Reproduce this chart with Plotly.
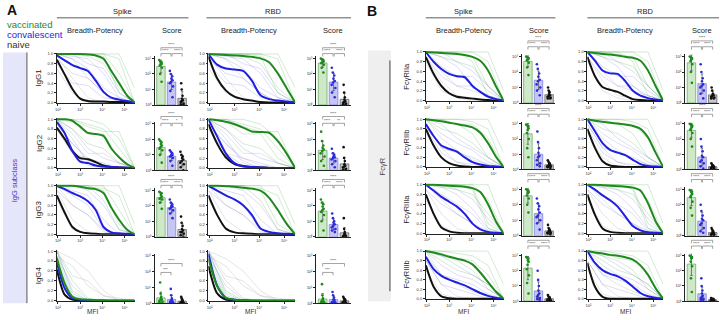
import numpy as np
import plotly.graph_objects as go

W, H = 720, 320
FONT = "Arial, 'Liberation Sans', sans-serif"

# ---------------- data ----------------
LOGMFI = [1.95, 2.3, 2.65, 3.0, 3.35, 3.7, 4.05, 4.4, 4.75, 5.1, 5.45]
THIN_X = [1.95, 2.65, 3.35, 4.05, 4.75, 5.45]
MFI_TICKS = [2, 3, 4, 5]
MFI_TICK_LABELS = ['10²', '10³', '10⁴', '10⁵']
FRAC_TICKS = [0, 0.2, 0.4, 0.6, 0.8, 1.0]
FRAC_TICK_LABELS = ['0.0', '0.2', '0.4', '0.6', '0.8', '1.0']
SCORE_TICKS = [0, 1, 2, 3]
SCORE_TICK_LABELS = ['10⁰', '10¹', '10²', '10³']
GROUPS = ['vaccinated', 'convalescent', 'naive']
A_ROWS = ['IgG1', 'IgG2', 'IgG3', 'IgG4']
B_ROWS = ['FcγRIIa', 'FcγRIIb', 'FcγRIIIa', 'FcγRIIIb']

# mean breadth-potency curves (fraction vs log10 MFI), one list per row
A_SPIKE_VAC = [[1, 1, 1, 1, 0.99, 0.97, 0.9, 0.65, 0.4, 0.15, 0],
               [1, 1, 0.97, 0.85, 0.72, 0.7, 0.66, 0.4, 0.22, 0.08, 0],
               [1, 1, 1, 0.98, 0.95, 0.93, 0.85, 0.55, 0.3, 0.1, 0],
               [0.86, 0.35, 0.08, 0.03, 0.02, 0.01, 0.01, 0, 0, 0, 0]]
A_SPIKE_CONV = [[0.97, 0.87, 0.77, 0.71, 0.65, 0.45, 0.22, 0.1, 0.06, 0.03, 0],
                [0.95, 0.72, 0.35, 0.13, 0.1, 0.05, 0.03, 0.02, 0.01, 0.01, 0],
                [1, 0.93, 0.85, 0.78, 0.68, 0.5, 0.15, 0.04, 0.02, 0.01, 0],
                [0.77, 0.25, 0.05, 0.02, 0.01, 0, 0, 0, 0, 0, 0]]
A_SPIKE_NAIVE = [[0.88, 0.58, 0.28, 0.08, 0.03, 0.02, 0.02, 0.01, 0.01, 0.01, 0],
                 [0.83, 0.6, 0.35, 0.2, 0.18, 0.12, 0.05, 0.02, 0.01, 0, 0],
                 [0.8, 0.45, 0.15, 0.05, 0.02, 0.01, 0, 0, 0, 0, 0],
                 [0.63, 0.12, 0.02, 0, 0, 0, 0, 0, 0, 0, 0]]
A_RBD_VAC = [[1, 0.99, 0.98, 0.97, 0.96, 0.94, 0.91, 0.83, 0.6, 0.3, 0],
             [1, 0.98, 0.95, 0.9, 0.83, 0.75, 0.74, 0.72, 0.55, 0.3, 0],
             [1, 1, 0.99, 0.98, 0.96, 0.94, 0.9, 0.75, 0.5, 0.22, 0],
             [0.85, 0.3, 0.06, 0.02, 0.01, 0, 0, 0, 0, 0, 0]]
A_RBD_CONV = [[1, 0.78, 0.7, 0.68, 0.65, 0.45, 0.15, 0.07, 0.04, 0.02, 0],
              [1, 0.65, 0.3, 0.1, 0.03, 0.02, 0.01, 0, 0, 0, 0],
              [1, 0.9, 0.8, 0.72, 0.6, 0.4, 0.12, 0.05, 0.02, 0.01, 0],
              [0.95, 0.3, 0.05, 0.02, 0.01, 0, 0, 0, 0, 0, 0]]
A_RBD_NAIVE = [[0.95, 0.5, 0.25, 0.12, 0.07, 0.04, 0.01, 0, 0, 0, 0],
               [0.9, 0.5, 0.22, 0.08, 0.04, 0.02, 0.01, 0, 0, 0, 0],
               [0.8, 0.4, 0.12, 0.04, 0.02, 0.01, 0, 0, 0, 0, 0],
               [0.7, 0.15, 0.02, 0, 0, 0, 0, 0, 0, 0, 0]]
B_SPIKE_VAC = [[1, 0.99, 0.98, 0.97, 0.96, 0.94, 0.9, 0.82, 0.62, 0.3, 0],
               [1, 0.98, 0.96, 0.93, 0.9, 0.87, 0.83, 0.72, 0.5, 0.22, 0],
               [1, 1, 0.99, 0.98, 0.97, 0.96, 0.93, 0.85, 0.6, 0.25, 0],
               [1, 0.97, 0.93, 0.88, 0.84, 0.8, 0.72, 0.55, 0.35, 0.15, 0]]
B_SPIKE_CONV = [[1, 0.8, 0.65, 0.55, 0.5, 0.48, 0.3, 0.18, 0.08, 0.03, 0],
                [0.9, 0.65, 0.45, 0.38, 0.32, 0.2, 0.1, 0.05, 0.02, 0.01, 0],
                [1, 0.88, 0.75, 0.65, 0.55, 0.4, 0.2, 0.08, 0.03, 0.01, 0],
                [0.88, 0.62, 0.48, 0.4, 0.34, 0.28, 0.2, 0.12, 0.06, 0.02, 0]]
B_SPIKE_NAIVE = [[0.9, 0.55, 0.3, 0.15, 0.08, 0.06, 0.04, 0.02, 0.01, 0, 0],
                 [0.8, 0.45, 0.2, 0.08, 0.03, 0.01, 0, 0, 0, 0, 0],
                 [0.8, 0.4, 0.12, 0.04, 0.01, 0, 0, 0, 0, 0, 0],
                 [0.7, 0.25, 0.05, 0.01, 0, 0, 0, 0, 0, 0, 0]]
B_RBD_VAC = [[1, 0.98, 0.96, 0.95, 0.93, 0.9, 0.88, 0.82, 0.62, 0.3, 0],
             [1, 0.97, 0.95, 0.93, 0.91, 0.89, 0.86, 0.8, 0.62, 0.3, 0],
             [1, 1, 0.99, 0.98, 0.97, 0.96, 0.94, 0.88, 0.62, 0.25, 0],
             [1, 0.97, 0.95, 0.92, 0.9, 0.87, 0.82, 0.7, 0.5, 0.22, 0]]
B_RBD_CONV = [[1, 0.82, 0.62, 0.56, 0.55, 0.4, 0.2, 0.1, 0.05, 0.02, 0],
              [1, 0.75, 0.5, 0.36, 0.3, 0.25, 0.15, 0.06, 0.02, 0.01, 0],
              [1, 0.9, 0.78, 0.68, 0.55, 0.35, 0.15, 0.06, 0.02, 0.01, 0],
              [1, 0.75, 0.6, 0.52, 0.47, 0.38, 0.25, 0.12, 0.05, 0.02, 0]]
B_RBD_NAIVE = [[0.9, 0.5, 0.28, 0.22, 0.18, 0.1, 0.03, 0.01, 0, 0, 0],
               [0.8, 0.4, 0.12, 0.03, 0.01, 0, 0, 0, 0, 0, 0],
               [0.8, 0.38, 0.1, 0.03, 0.01, 0, 0, 0, 0, 0, 0],
               [0.75, 0.25, 0.04, 0, 0, 0, 0, 0, 0, 0, 0]]

# individual (thin) curves per row, on THIN_X
THIN_A_VAC = [
    [[1, 1, 1, 1, 0.6, 0], [1, 1, 1, 0.95, 0.2, 0], [1, 1, 1, 1, 0.9, 0], [1, 1, 0.95, 0.8, 0.3, 0], [1, 1, 1, 1, 1, 0.3]],
    [[1, 1, 0.9, 0.8, 0.4, 0], [1, 0.95, 0.7, 0.7, 0.2, 0], [1, 1, 1, 0.9, 0.6, 0], [1, 0.8, 0.5, 0.4, 0.1, 0], [1, 1, 0.85, 0.75, 0.75, 0]],
    [[1, 1, 1, 1, 0.5, 0], [1, 1, 1, 0.9, 0.2, 0], [1, 1, 0.95, 0.95, 0.8, 0], [1, 1, 1, 0.7, 0.1, 0], [1, 1, 1, 1, 1, 0.2]],
    [[1, 0.2, 0, 0, 0, 0], [0.9, 0.1, 0, 0, 0, 0], [1, 0.4, 0.05, 0, 0, 0], [0.7, 0.05, 0, 0, 0, 0]]]
THIN_A_CONV = [
    [[1, 0.9, 0.7, 0.3, 0.1, 0], [0.9, 0.6, 0.5, 0.2, 0, 0], [1, 0.95, 0.9, 0.6, 0.1, 0], [0.8, 0.4, 0.35, 0.1, 0.05, 0], [1, 1, 0.8, 0.7, 0.2, 0]],
    [[1, 0.6, 0.1, 0, 0, 0], [0.9, 0.5, 0.2, 0.1, 0, 0], [1, 0.8, 0.4, 0.2, 0.1, 0], [0.8, 0.3, 0.05, 0, 0, 0]],
    [[1, 0.9, 0.8, 0.3, 0, 0], [1, 0.8, 0.6, 0.1, 0, 0], [1, 1, 0.9, 0.6, 0.1, 0], [0.9, 0.6, 0.4, 0.05, 0, 0]],
    [[1, 0.15, 0, 0, 0, 0], [0.8, 0.05, 0, 0, 0, 0], [0.9, 0.3, 0.02, 0, 0, 0]]]
THIN_A_NAIVE = [
    [[0.7, 0.2, 0, 0, 0, 0], [0.95, 0.5, 0.1, 0, 0, 0], [1, 0.9, 0.5, 0.2, 0, 0]],
    [[0.8, 0.3, 0.2, 0.05, 0, 0], [0.9, 0.5, 0.15, 0, 0, 0], [1, 0.7, 0.3, 0.3, 0.1, 0]],
    [[0.7, 0.1, 0, 0, 0, 0], [0.9, 0.3, 0.05, 0, 0, 0], [1, 0.6, 0.4, 0.1, 0, 0]],
    [[1, 0.85, 0.6, 0.2, 0, 0], [0.9, 0.7, 0.3, 0.1, 0.05, 0], [1, 0.5, 0.4, 0.1, 0, 0]]]
THIN_B_VAC = [
    [[1, 1, 1, 1, 0.8, 0], [1, 1, 0.95, 0.9, 0.3, 0], [1, 1, 1, 1, 1, 0.2], [1, 0.9, 0.8, 0.7, 0.3, 0], [1, 1, 1, 0.8, 0.1, 0]],
    [[1, 1, 0.9, 0.9, 0.6, 0], [1, 0.95, 0.9, 0.7, 0.2, 0], [1, 1, 1, 1, 1, 0.3], [1, 0.8, 0.7, 0.5, 0.2, 0], [1, 1, 1, 0.95, 0.8, 0]],
    [[1, 1, 1, 1, 0.7, 0], [1, 1, 1, 0.95, 0.2, 0], [1, 1, 1, 1, 1, 0.2], [1, 0.95, 0.9, 0.8, 0.4, 0], [1, 1, 1, 0.9, 0.1, 0]],
    [[1, 0.95, 0.85, 0.8, 0.5, 0], [1, 0.9, 0.8, 0.6, 0.2, 0], [1, 1, 1, 1, 1, 0.3], [1, 0.8, 0.6, 0.5, 0.3, 0], [1, 1, 0.95, 0.9, 0.7, 0]]]
THIN_B_CONV = [
    [[1, 0.7, 0.5, 0.5, 0.2, 0], [1, 0.9, 0.7, 0.3, 0.05, 0], [0.9, 0.5, 0.3, 0.3, 0.1, 0], [1, 1, 0.8, 0.6, 0.3, 0]],
    [[0.9, 0.4, 0.3, 0.2, 0.05, 0], [1, 0.7, 0.5, 0.35, 0.1, 0], [0.8, 0.3, 0.1, 0.05, 0, 0], [1, 0.9, 0.6, 0.4, 0.2, 0]],
    [[1, 0.8, 0.6, 0.4, 0.05, 0], [1, 0.95, 0.8, 0.5, 0.1, 0], [0.9, 0.6, 0.4, 0.2, 0, 0], [1, 1, 0.9, 0.7, 0.3, 0]],
    [[0.9, 0.5, 0.4, 0.3, 0.1, 0], [1, 0.7, 0.5, 0.4, 0.2, 0], [0.8, 0.3, 0.2, 0.1, 0, 0], [1, 0.9, 0.7, 0.5, 0.3, 0]]]
THIN_B_NAIVE = [
    [[0.8, 0.2, 0.05, 0, 0, 0], [1, 0.6, 0.3, 0.2, 0.1, 0], [0.9, 0.4, 0.1, 0.05, 0, 0]],
    [[0.7, 0.2, 0, 0, 0, 0], [0.9, 0.4, 0.1, 0, 0, 0], [1, 0.6, 0.35, 0.15, 0.05, 0]],
    [[0.7, 0.15, 0, 0, 0, 0], [0.9, 0.4, 0.1, 0, 0, 0], [1, 0.7, 0.4, 0.2, 0.05, 0]],
    [[0.6, 0.1, 0, 0, 0, 0], [0.8, 0.3, 0.05, 0, 0, 0], [1, 0.5, 0.3, 0.15, 0.05, 0]]]

# scores (log10 score of each donor), one list per row
A_SPIKE_VAC_SCORE = [[2.9, 2.8, 2.75, 2.7, 2.65, 2.6, 2.55, 2.4, 2.0, 1.5],
                     [2.0, 1.9, 1.8, 1.7, 1.6, 1.5, 1.4, 1.3, 1.0, 0.5],
                     [2.9, 2.85, 2.8, 2.7, 2.6, 2.5, 2.45, 2.4, 2.2, 1.8],
                     [1.3, 0.6, 0.4, 0.3, 0.25, 0.2, 0.15, 0.1, 0.05, 0.0]]
A_SPIKE_CONV_SCORE = [[2.2, 2.0, 1.85, 1.7, 1.6, 1.5, 1.4, 1.2, 0.9, 0.5],
                      [1.3, 1.2, 1.1, 1.0, 1.0, 0.95, 0.9, 0.8, 0.6, 0.3],
                      [2.4, 2.2, 2.1, 2.0, 1.95, 1.9, 1.8, 1.7, 1.5, 1.2],
                      [0.9, 0.5, 0.3, 0.2, 0.15, 0.1, 0.1, 0.05, 0.0, 0.0]]
A_SPIKE_NAIVE_SCORE = [[1.4, 1.0, 0.6, 0.4, 0.3, 0.25, 0.2, 0.1, 0.05, 0.0],
                       [1.2, 1.0, 0.9, 0.8, 0.7, 0.6, 0.5, 0.4, 0.2, 0.0],
                       [1.3, 0.9, 0.7, 0.5, 0.4, 0.3, 0.3, 0.2, 0.1, 0.0],
                       [0.4, 0.3, 0.2, 0.15, 0.1, 0.05, 0.05, 0, 0, 0]]
A_RBD_VAC_SCORE = [[3.0, 2.95, 2.9, 2.85, 2.8, 2.75, 2.7, 2.6, 2.4, 2.1],
                   [2.5, 1.9, 1.6, 1.45, 1.35, 1.25, 1.1, 0.9, 0.6, 0.3],
                   [2.4, 2.2, 2.1, 1.95, 1.8, 1.7, 1.6, 1.4, 1.0, 0.4],
                   [1.2, 0.5, 0.3, 0.2, 0.15, 0.1, 0.1, 0.05, 0, 0]]
A_RBD_CONV_SCORE = [[2.4, 2.1, 1.9, 1.7, 1.55, 1.45, 1.3, 1.1, 0.8, 0.5],
                    [1.4, 1.1, 1.0, 0.9, 0.85, 0.8, 0.7, 0.6, 0.4, 0.2],
                    [1.5, 1.2, 1.0, 0.9, 0.8, 0.7, 0.6, 0.5, 0.4, 0.3],
                    [0.7, 0.5, 0.35, 0.25, 0.2, 0.1, 0.05, 0.05, 0, 0]]
A_RBD_NAIVE_SCORE = [[1.3, 0.8, 0.5, 0.35, 0.25, 0.2, 0.15, 0.1, 0.05, 0],
                     [1.5, 0.8, 0.6, 0.4, 0.3, 0.25, 0.2, 0.1, 0.05, 0],
                     [1.2, 0.5, 0.3, 0.2, 0.15, 0.1, 0.05, 0.05, 0, 0],
                     [0.4, 0.3, 0.25, 0.2, 0.15, 0.1, 0.05, 0, 0, 0]]
B_SPIKE_VAC_SCORE = [[3.0, 2.95, 2.9, 2.9, 2.85, 2.8, 2.75, 2.6, 2.3, 1.8],
                     [2.95, 2.9, 2.85, 2.8, 2.7, 2.6, 2.4, 2.0, 1.4, 0.8],
                     [3.0, 2.95, 2.9, 2.85, 2.8, 2.75, 2.6, 2.4, 2.0, 1.5],
                     [2.9, 2.85, 2.8, 2.7, 2.6, 2.4, 2.1, 1.7, 1.2, 0.5]]
B_SPIKE_CONV_SCORE = [[2.5, 2.2, 1.9, 1.7, 1.5, 1.4, 1.2, 1.0, 0.8, 0.5],
                      [2.5, 1.8, 1.4, 1.1, 0.9, 0.8, 0.6, 0.4, 0.3, 0.2],
                      [2.4, 2.1, 1.9, 1.7, 1.5, 1.3, 1.2, 1.0, 0.8, 0.4],
                      [2.0, 1.4, 1.0, 0.7, 0.5, 0.4, 0.3, 0.2, 0.15, 0.1]]
B_SPIKE_NAIVE_SCORE = [[1.0, 0.8, 0.7, 0.6, 0.5, 0.45, 0.4, 0.35, 0.3, 0.3],
                       [0.6, 0.5, 0.4, 0.35, 0.3, 0.25, 0.2, 0.2, 0.15, 0.1],
                       [0.7, 0.5, 0.4, 0.35, 0.3, 0.25, 0.2, 0.2, 0.15, 0.1],
                       [0.4, 0.3, 0.25, 0.2, 0.15, 0.1, 0.1, 0.05, 0.05, 0]]
B_RBD_VAC_SCORE = [[3.0, 2.95, 2.9, 2.9, 2.85, 2.8, 2.7, 2.5, 2.0, 1.3],
                   [3.0, 2.95, 2.9, 2.85, 2.8, 2.7, 2.6, 2.4, 2.0, 1.5],
                   [2.95, 2.9, 2.85, 2.8, 2.7, 2.6, 2.5, 2.2, 1.8, 1.3],
                   [3.0, 2.95, 2.9, 2.9, 2.85, 2.8, 2.6, 2.3, 1.5, 0.6]]
B_RBD_CONV_SCORE = [[2.5, 2.0, 1.6, 1.4, 1.2, 1.1, 1.0, 0.8, 0.6, 0.3],
                    [2.0, 1.5, 1.2, 0.9, 0.8, 0.6, 0.5, 0.4, 0.2, 0.05],
                    [2.0, 1.6, 1.3, 1.1, 1.0, 0.8, 0.7, 0.5, 0.3, 0.2],
                    [1.5, 1.0, 0.7, 0.5, 0.35, 0.25, 0.2, 0.15, 0.1, 0.1]]
B_RBD_NAIVE_SCORE = [[1.0, 0.8, 0.6, 0.55, 0.5, 0.45, 0.4, 0.35, 0.3, 0.3],
                     [0.4, 0.3, 0.25, 0.2, 0.2, 0.15, 0.1, 0.1, 0.05, 0.05],
                     [0.5, 0.4, 0.3, 0.25, 0.2, 0.15, 0.1, 0.1, 0.05, 0.05],
                     [0.2, 0.15, 0.15, 0.1, 0.1, 0.1, 0.05, 0.05, 0.05, 0]]

# significance labels (top bracket, vacc-conv, conv-naive)
A_SPIKE_STARS = [('****', '****', '****'), ('****', '****', '*'), ('****', '****', '****'), ('****', '***', None)]
A_RBD_STARS = [('****', '****', '****'), ('****', '****', '**'), ('****', '****', '****'), ('****', '***', None)]
B_STARS = [('****', '****', '****')] * 4

# ---------------- styling / layout ----------------
C_THICK = ['#1e8a1e', '#1f1fe0', '#111111']
C_THIN = ['rgba(60,160,60,0.32)', 'rgba(80,80,220,0.28)', 'rgba(120,120,120,0.28)']
C_BAR_FILL = ['#cfe8c8', '#c6c6f2', '#c9c9c9']
C_BAR_LINE = ['#5aa55a', '#7474e0', '#555555']
C_DOT = ['#1a8c1a', '#2b2bd9', '#111111']

A_LINE_Y = [(52, 103), (118, 169), (185, 236), (251, 303)]
B_LINE_Y = [(50, 101), (118, 168), (184, 235), (251, 301)]
A_BRACKET = [(1.06, 1.18), (0.97, 1.11), (1.06, 1.18), (0.62, 0.8)]
B_BRACKET = [(1.16, 1.28)] * 4

axis_style = dict(showline=True, linecolor='#222', linewidth=0.8, ticks='outside', ticklen=2,
                  tickwidth=0.6, tickcolor='#222', tickfont=dict(size=4, color='#333', family=FONT),
                  showgrid=False, zeroline=False, fixedrange=True)


def dom_x(x0, x1):
    return [x0 / W, x1 / W]


def dom_y(y0, y1):
    return [1 - y1 / H, 1 - y0 / H]


fig = go.Figure()
layout = {}
shapes = []
annotations = []
count = [0]


def new_axes():
    count[0] += 1
    n = count[0]
    s = '' if n == 1 else str(n)
    return 'xaxis' + s, 'yaxis' + s, 'x' + s, 'y' + s


def line_panel(xpx, ypx, curves, thins):
    xa, ya, xr, yr = new_axes()
    layout[xa] = dict(domain=dom_x(*xpx), anchor=yr, range=[LOGMFI[0], LOGMFI[-1]],
                      tickvals=MFI_TICKS, ticktext=MFI_TICK_LABELS, **axis_style)
    layout[ya] = dict(domain=dom_y(*ypx), anchor=xr, range=[-0.01, 1.03],
                      tickvals=FRAC_TICKS, ticktext=FRAC_TICK_LABELS, **axis_style)
    for g in (2, 1, 0):
        for ln in thins[g]:
            fig.add_trace(go.Scatter(x=THIN_X, y=ln, mode='lines', xaxis=xr, yaxis=yr,
                                     line=dict(color=C_THIN[g], width=0.7), hoverinfo='skip'))
    for g in (2, 1, 0):
        fig.add_trace(go.Scatter(x=LOGMFI, y=curves[g], mode='lines', xaxis=xr, yaxis=yr,
                                 line=dict(color=C_THICK[g], width=2, shape='spline', smoothing=0.7),
                                 name=GROUPS[g]))


score_axis_x = {k: v for k, v in axis_style.items() if k != 'ticks'}


def score_panel(xpx, ypx, scores, levels, stars):
    xa, ya, xr, yr = new_axes()
    layout[xa] = dict(domain=dom_x(*xpx), anchor=yr, range=[-0.6, 2.6], showticklabels=False,
                      ticks='', **score_axis_x)
    layout[ya] = dict(domain=dom_y(*ypx), anchor=xr, range=[0, 3.13],
                      tickvals=SCORE_TICKS, ticktext=SCORE_TICK_LABELS, **axis_style)
    for g in range(3):
        vals = np.array(scores[g], dtype=float)
        fig.add_trace(go.Bar(x=[g], y=[vals.mean()], width=0.8, xaxis=xr, yaxis=yr,
                             marker=dict(color=C_BAR_FILL[g], line=dict(color=C_BAR_LINE[g], width=0.7)),
                             error_y=dict(type='data', array=[vals.std()], color='#333', thickness=0.6, width=1.2),
                             name=GROUPS[g]))
    for g in range(3):
        vals = scores[g]
        fig.add_trace(go.Box(x=[g] * len(vals), y=vals, xaxis=xr, yaxis=yr, boxpoints='all', jitter=0.9,
                             pointpos=0, fillcolor='rgba(0,0,0,0)', line=dict(width=0, color='rgba(0,0,0,0)'),
                             whiskerwidth=0, marker=dict(size=2.6, color=C_DOT[g]), name=GROUPS[g]))
    lo, hi = levels
    d = 0.06
    yref = yr + ' domain'
    brackets = [(0, 2, hi, stars[0]), (0, 0.95, lo, stars[1])]
    if stars[2] is not None:
        brackets.append((1.05, 2, lo, stars[2]))
    for x0, x1, lv, txt in brackets:
        shapes.append(dict(type='path', xref=xr, yref=yref,
                           path=f'M {x0},{lv - d} L {x0},{lv} L {x1},{lv} L {x1},{lv - d}',
                           line=dict(color='#666', width=0.6)))
        annotations.append(dict(x=(x0 + x1) / 2, y=lv, xref=xr, yref=yref, text=txt, showarrow=False,
                                yanchor='bottom', yshift=-1.5, font=dict(size=4, color='#333', family=FONT)))


def ann(text, x, y, size, color='#222', angle=0, xanchor='center'):
    annotations.append(dict(x=x / W, y=1 - y / H, xref='paper', yref='paper', text=text, showarrow=False,
                            xanchor=xanchor, yanchor='middle', textangle=angle,
                            font=dict(size=size, color=color, family=FONT)))


def hline(x0, x1, y, color='#333', width=0.8):
    shapes.append(dict(type='line', xref='paper', yref='paper', x0=x0 / W, x1=x1 / W,
                       y0=1 - y / H, y1=1 - y / H, line=dict(color=color, width=width)))


# columns (pixel extents)
COLS = [
    ((55, 133), (153, 187), A_LINE_Y, [A_SPIKE_VAC, A_SPIKE_CONV, A_SPIKE_NAIVE],
     [THIN_A_VAC, THIN_A_CONV, THIN_A_NAIVE], [A_SPIKE_VAC_SCORE, A_SPIKE_CONV_SCORE, A_SPIKE_NAIVE_SCORE],
     A_BRACKET, A_SPIKE_STARS),
    ((207, 294), (315, 350), A_LINE_Y, [A_RBD_VAC, A_RBD_CONV, A_RBD_NAIVE],
     [THIN_A_VAC, THIN_A_CONV, THIN_A_NAIVE], [A_RBD_VAC_SCORE, A_RBD_CONV_SCORE, A_RBD_NAIVE_SCORE],
     A_BRACKET, A_RBD_STARS),
    ((425, 503), (521, 555), B_LINE_Y, [B_SPIKE_VAC, B_SPIKE_CONV, B_SPIKE_NAIVE],
     [THIN_B_VAC, THIN_B_CONV, THIN_B_NAIVE], [B_SPIKE_VAC_SCORE, B_SPIKE_CONV_SCORE, B_SPIKE_NAIVE_SCORE],
     B_BRACKET, B_STARS),
    ((587, 663), (685, 719), B_LINE_Y, [B_RBD_VAC, B_RBD_CONV, B_RBD_NAIVE],
     [THIN_B_VAC, THIN_B_CONV, THIN_B_NAIVE], [B_RBD_VAC_SCORE, B_RBD_CONV_SCORE, B_RBD_NAIVE_SCORE],
     B_BRACKET, B_STARS),
]

for lx, sx, rows_y, curves, thins, scores, brk, stars in COLS:
    for r in range(4):
        y0, y1 = rows_y[r]
        line_panel(lx, (y0, y1), [curves[g][r] for g in range(3)], [thins[g][r] for g in range(3)])
        score_panel(sx, (y0 + 4, y1 + 2), [scores[g][r] for g in range(3)], brk[r], stars[r])

# side bands
shapes.append(dict(type='rect', xref='paper', yref='paper', x0=1 / W, x1=25 / W, y0=1 - 305 / H, y1=1 - 52 / H,
                   fillcolor='#e6e6fa', line=dict(width=0), layer='below'))
shapes.append(dict(type='line', xref='paper', yref='paper', x0=25 / W, x1=25 / W, y0=1 - 305 / H, y1=1 - 52 / H,
                   line=dict(color='#555', width=1)))
shapes.append(dict(type='rect', xref='paper', yref='paper', x0=367 / W, x1=390 / W, y0=1 - 303 / H, y1=1 - 50 / H,
                   fillcolor='#efefef', line=dict(width=0), layer='below'))
shapes.append(dict(type='line', xref='paper', yref='paper', x0=389 / W, x1=389 / W, y0=1 - 293 / H, y1=1 - 60 / H,
                   line=dict(color='#444', width=1)))

# texts
ann('<b>A</b>', 3, 9.5, 14, '#111', xanchor='left')
ann('<b>B</b>', 364, 10.5, 14, '#111', xanchor='left')
ann('vaccinated', 3, 23.5, 9.5, C_THICK[0], xanchor='left')
ann('convalescent', 3, 34, 9.5, C_THICK[1], xanchor='left')
ann('naive', 3, 44, 9.5, '#333', xanchor='left')
ann('IgG subclass', 12, 181, 7.5, '#3c3cc8', angle=-90)
ann('FcγR', 381, 167, 7.5, '#444', angle=-90)

for lbl, (y0, y1) in zip(A_ROWS, A_LINE_Y):
    ann(lbl, 37, (y0 + y1) / 2, 8, '#222', angle=-90)
for lbl, (y0, y1) in zip(B_ROWS, B_LINE_Y):
    ann(lbl, 406, (y0 + y1) / 2, 7.5, '#222', angle=-90)

for txt, xc, x0, x1 in [('Spike', 121, 55, 187), ('RBD', 272, 205, 350),
                        ('Spike', 463, 425, 555), ('RBD', 645, 587, 719)]:
    ann(txt, xc, 11, 7.5)
    hline(x0, x1, 17)
for txt, xc in [('Breadth-Potency', 93), ('Score', 170), ('Breadth-Potency', 248), ('Score', 332),
                ('Breadth-Potency', 463), ('Score', 538), ('Breadth-Potency', 625), ('Score', 702)]:
    ann(txt, xc, 30, 7.5)
for xc in (91, 249, 463, 625):
    ann('MFI', xc, 313, 6.5, '#333')

layout.update(dict(width=W, height=H, margin=dict(l=0, r=0, t=0, b=0), paper_bgcolor='white',
                   plot_bgcolor='white', showlegend=False, barmode='overlay', boxmode='overlay',
                   shapes=shapes, annotations=annotations, font=dict(family=FONT)))
fig.update_layout(**layout)
fig.write_html('out.html', config={'displayModeBar': False},
               post_script="document.body.style.margin='0';document.body.style.padding='0';")
